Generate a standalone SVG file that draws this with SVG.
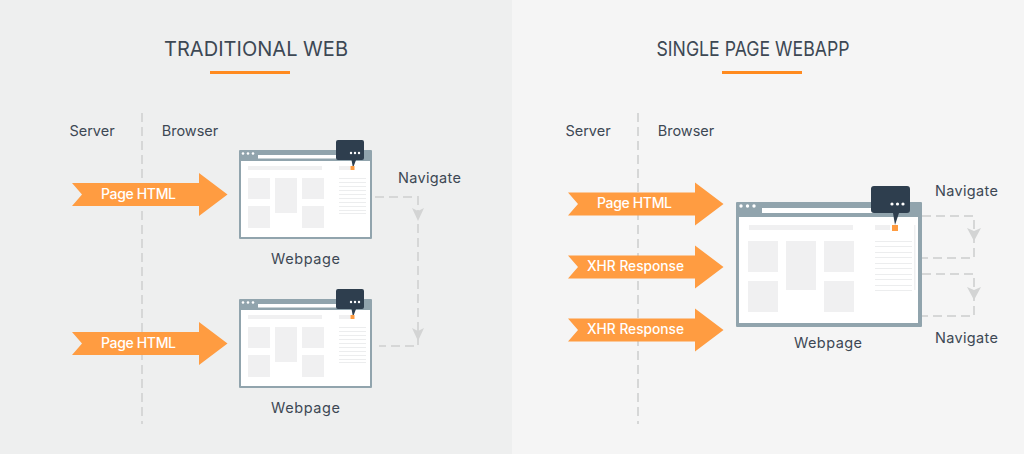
<svg xmlns="http://www.w3.org/2000/svg" xmlns:xlink="http://www.w3.org/1999/xlink" width="1024" height="454" viewBox="0 0 1024 454">
<style>
text{font-family:Inter,"Noto Sans","Liberation Sans",sans-serif;fill:#3d4854}
.title{font-size:20px;text-anchor:middle}
.lab{font-size:14.500px;text-anchor:middle}
.arr{font-size:14px;font-weight:500;text-anchor:middle;fill:#fff}
.dash{fill:none;stroke:#d6d7d7;stroke-width:2;stroke-dasharray:9 5}
.guide{fill:none;stroke:#d6d7d7;stroke-width:2;stroke-dasharray:9 5}
.ah{fill:#d3d4d4}
.frame{fill:#91a4ad}
.box{fill:#f0f0f1}
.ln{stroke:#ecedee;stroke-width:1}
.orange{fill:#ff9c41}
.bub{fill:#2e3e4e}
.w{fill:#fff}
</style>
<defs>
<path id="arrow" d="M0,-11.500L127,-11.500L127,-21.500L155.500,0L127,21.500L127,11.500L0,11.500L10,0Z" class="orange"/>
<g id="winS">
<rect x="239" y="150" width="133" height="89" rx="1" class="frame"/>
<rect x="241" y="161" width="129" height="76" class="w"/>
<rect x="258" y="155" width="90" height="3.500" class="w"/>
<circle cx="243" cy="153.500" r="1.300" class="w"/><circle cx="248" cy="153.500" r="1.300" class="w"/><circle cx="253" cy="153.500" r="1.300" class="w"/>
<rect x="248" y="166" width="74" height="4" class="box"/>
<rect x="248" y="178" width="22" height="21" class="box"/>
<rect x="275" y="178" width="22" height="35" class="box"/>
<rect x="302" y="178" width="22" height="21" class="box"/>
<rect x="248" y="206" width="22" height="22" class="box"/>
<rect x="302" y="206" width="22" height="22" class="box"/>
<rect x="339" y="166" width="11" height="4" class="box"/>
<path class="ln" d="M339,178.500H366M339,182.500H366M339,186.500H366M339,190.500H366M339,194.500H366M339,198.500H366M339,202.500H366M339,206.500H366M339,210.500H366M339,213.500H366"/>
<path d="M338,140H362Q364,140 364,142V158Q364,160 362,160H356L353,168L351.500,160H338Q336,160 336,158V142Q336,140 338,140Z" class="bub"/>
<circle cx="351" cy="153" r="1.200" class="w"/><circle cx="355" cy="153" r="1.200" class="w"/><circle cx="359" cy="153" r="1.200" class="w"/>
<rect x="350.500" y="166" width="4" height="4" class="orange"/>
</g>
</defs>
<rect width="512" height="454" fill="#eeefef"/>
<rect x="512" width="512" height="454" fill="#f5f5f5"/>

<g id="connectors">
<path class="guide" d="M142,113V424"/>
<path class="guide" d="M638,113V424"/>
<path class="dash" d="M375,197H418V346H379"/>
<path class="ah" d="M412,208L418,211L424,208L418,221Z"/>
<path class="ah" d="M412,328L418,331L424,328L418,341Z"/>
<path class="dash" d="M922,216H974V258H922"/>
<path class="dash" d="M922,274H974V316H922"/>
<path class="ah" d="M967,228L974,231L981,228L974,241Z"/>
<path class="ah" d="M967,287L974,290L981,287L974,300Z"/>
</g>

<g id="title-left">
<text class="title" x="256" y="56" textLength="184">TRADITIONAL WEB</text>
<rect x="210" y="71" width="80" height="3" fill="#ff8a1f"/>
</g>
<g id="title-right">
<text class="title" x="753" y="56" textLength="193" lengthAdjust="spacingAndGlyphs">SINGLE PAGE WEBAPP</text>
<rect x="722" y="71" width="80" height="3" fill="#ff8a1f"/>
</g>
<g id="server-left"><text class="lab" x="92" y="136">Server</text></g>
<g id="browser-left"><text class="lab" x="190" y="136">Browser</text></g>
<g id="server-right"><text class="lab" x="588" y="136">Server</text></g>
<g id="browser-right"><text class="lab" x="686" y="136">Browser</text></g>

<g id="arrow-l1"><use xlink:href="#arrow" href="#arrow" x="72" y="194.500"/><text class="arr" x="138.500" y="199" textLength="75">Page HTML</text></g>
<g id="arrow-l2"><use xlink:href="#arrow" href="#arrow" x="72" y="343.500"/><text class="arr" x="138.500" y="348" textLength="75">Page HTML</text></g>
<g id="arrow-r1"><use xlink:href="#arrow" href="#arrow" x="568" y="204"/><text class="arr" x="634.500" y="208" textLength="75">Page HTML</text></g>
<g id="arrow-r2"><use xlink:href="#arrow" href="#arrow" x="568" y="267"/><text class="arr" x="635.500" y="271" textLength="97" lengthAdjust="spacingAndGlyphs">XHR Response</text></g>
<g id="arrow-r3"><use xlink:href="#arrow" href="#arrow" x="568" y="330"/><text class="arr" x="635.500" y="334" textLength="97" lengthAdjust="spacingAndGlyphs">XHR Response</text></g>

<g id="webpage-top"><use xlink:href="#winS" href="#winS"/><text class="lab" x="305.500" y="264" textLength="69">Webpage</text></g>
<g id="webpage-bottom"><use xlink:href="#winS" href="#winS" y="149"/><text class="lab" x="305.500" y="413" textLength="69">Webpage</text></g>
<g id="navigate-left"><text class="lab" x="429.500" y="183" textLength="63">Navigate</text></g>

<g id="webpage-right">
<rect x="736" y="202" width="186" height="125" rx="1" class="frame"/>
<rect x="739" y="217" width="179" height="106" class="w"/>
<rect x="762" y="208" width="125" height="5" class="w"/>
<circle cx="741" cy="206" r="1.700" class="w"/><circle cx="747.500" cy="206" r="1.700" class="w"/><circle cx="754" cy="206" r="1.700" class="w"/>
<rect x="749" y="225" width="104" height="5" class="box"/>
<rect x="748" y="241" width="30" height="31" class="box"/>
<rect x="786" y="241" width="30" height="49" class="box"/>
<rect x="824" y="241" width="30" height="31" class="box"/>
<rect x="748" y="281" width="30" height="31" class="box"/>
<rect x="824" y="281" width="30" height="31" class="box"/>
<rect x="875" y="225" width="15" height="5" class="box"/>
<rect x="914" y="225" width="1.500" height="65" class="box"/>
<path class="ln" d="M875,241.500H912M875,246.500H912M875,252.500H912M875,257.500H912M875,263.500H912M875,268.500H912M875,274.500H912M875,279.500H912M875,285.500H912M875,290.500H912"/>
<path d="M874,186H907Q910,186 910,189V210Q910,213 907,213H899L895,225L893,213H874Q871,213 871,210V189Q871,186 874,186Z" class="bub"/>
<circle cx="892" cy="204" r="1.600" class="w"/><circle cx="897.500" cy="204" r="1.600" class="w"/><circle cx="903" cy="204" r="1.600" class="w"/>
<rect x="892" y="225" width="6" height="6" class="orange"/>
<text class="lab" x="828" y="348" textLength="68">Webpage</text>
</g>
<g id="navigate-r1"><text class="lab" x="966.500" y="196" textLength="63">Navigate</text></g>
<g id="navigate-r2"><text class="lab" x="966.500" y="343" textLength="63">Navigate</text></g>
</svg>
